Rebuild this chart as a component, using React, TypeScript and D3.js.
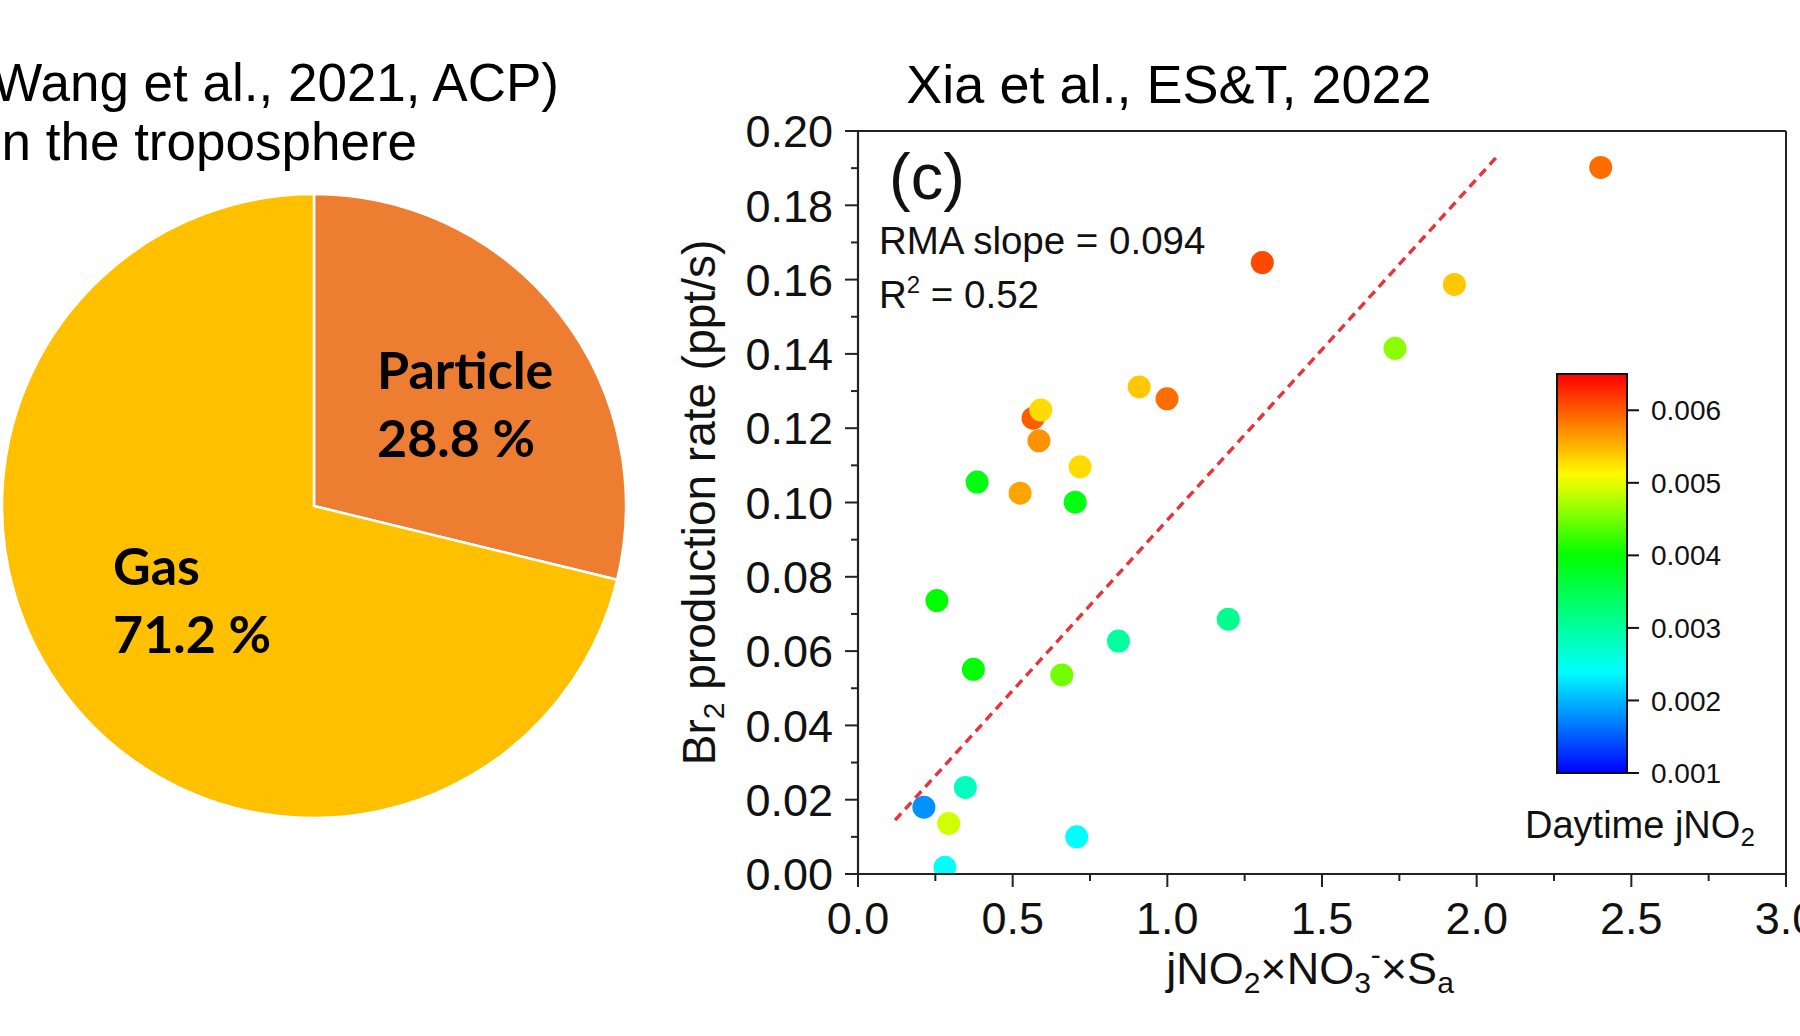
import React from 'react';
import * as d3 from 'd3';

// ---------- Pie data ----------
const pieLabels = ['Particle', 'Gas'];
const pieValues = [28.8, 71.2];
const pieColors = ['#ED7D31', '#FFC000'];

// ---------- Scatter data ----------
const xVals = [2.401, 1.307, 1.928, 1.736, 0.909, 0.999, 0.566, 0.591, 0.585, 0.718, 0.385, 0.524, 0.702, 0.255, 1.197, 0.842, 0.373, 0.659, 0.347, 0.213, 0.293, 0.707, 0.281];
const yVals = [0.1902, 0.1646, 0.1587, 0.1415, 0.1311, 0.1279, 0.1227, 0.1249, 0.1166, 0.1096, 0.1055, 0.1025, 0.1001, 0.0736, 0.0686, 0.0627, 0.0551, 0.0536, 0.0233, 0.0180, 0.0136, 0.0100, 0.0018];
const jVals = [0.0059, 0.0061, 0.0054, 0.0046, 0.0054, 0.0059, 0.0060, 0.0053, 0.0057, 0.0053, 0.0039, 0.0056, 0.0039, 0.0040, 0.0031, 0.0030, 0.0040, 0.0045, 0.0028, 0.0018, 0.0049, 0.0024, 0.0024];

// RMA fit line endpoints
const fitX = [0.12, 2.07];
const fitY = [0.0145, 0.1935];

const xTickValues = [0, 0.5, 1.0, 1.5, 2.0, 2.5, 3.0];
const xMinorValues = [0.25, 0.75, 1.25, 1.75, 2.25, 2.75];
const yTickValues = [0, 0.02, 0.04, 0.06, 0.08, 0.1, 0.12, 0.14, 0.16, 0.18, 0.2];
const yMinorValues = [0.01, 0.03, 0.05, 0.07, 0.09, 0.11, 0.13, 0.15, 0.17, 0.19];

const cbTickValues = [0.001, 0.002, 0.003, 0.004, 0.005, 0.006];
const cbStopValues = [0.001, 0.0024, 0.004, 0.0051, 0.0065];
const cbStopColors = ['#0000FF', '#00FFFF', '#00FF00', '#FFFF00', '#FF0000'];

const FONT = '"Liberation Sans", Arial, Helvetica, sans-serif';

export default function App() {
  // Pie
  const cx = 314, cy = 506, R = 312;
  const pie = d3.pie<number>().sort(null).value((d) => d);
  const arcs = pie(pieValues);
  const arc = d3.arc<d3.PieArcDatum<number>>().innerRadius(0).outerRadius(R);

  // Scatter scales
  const x = d3.scaleLinear().domain([0, 3]).range([858, 1786]);
  const y = d3.scaleLinear().domain([0, 0.2]).range([874, 131]);
  const color = d3.scaleLinear<string>().domain(cbStopValues).range(cbStopColors).interpolate(d3.interpolateRgb).clamp(true);

  // Colorbar
  const cbX = 1557, cbW = 70;
  const cb = d3.scaleLinear().domain([0.001, 0.0065]).range([773, 374]);
  const cbDomain = cb.domain();
  const gradStops = d3.range(0, 21).map((i) => {
    const v = cbDomain[0] + (cbDomain[1] - cbDomain[0]) * (i / 20);
    return { offset: `${(i / 20) * 100}%`, color: color(v) };
  });

  const fitLine = d3.line<number>().x((d, i) => x(fitX[i])).y((d, i) => y(fitY[i]));

  const plotL = x(0), plotR = x(3), plotT = y(0.2), plotB = y(0);

  return (
    <svg width={1800} height={1036} style={{ position: 'absolute', left: 0, top: 0, background: '#fff' }} fontFamily={FONT}>
      <rect x={0} y={0} width={1800} height={1036} fill="#fff" />
      <defs>
        <clipPath id="plotClip">
          <rect x={plotL} y={plotT} width={plotR - plotL} height={plotB - plotT} />
        </clipPath>
        <linearGradient id="cbGrad" x1="0" y1="1" x2="0" y2="0">
          {gradStops.map((s, i) => (
            <stop key={i} offset={s.offset} stopColor={s.color} />
          ))}
        </linearGradient>
      </defs>

      {/* Left titles */}
      <text x={559} y={101} fontSize={53} textAnchor="end" fill="#000">(Wang et al., 2021, ACP)</text>
      <text x={417} y={160} fontSize={53} textAnchor="end" fill="#000">in the troposphere</text>

      {/* Pie */}
      <g transform={`translate(${cx},${cy})`}>
        {arcs.map((a, i) => (
          <path key={i} d={arc(a) || ''} fill={pieColors[i]} stroke="#fff" strokeWidth={2.5} />
        ))}
      </g>
      <g fontFamily='Lato, "Open Sans", sans-serif' fontWeight={700} fontSize={52} fill="#000">
        <text x={377} y={389}>{pieLabels[0]}</text>
        <text x={377} y={457}>{`${pieValues[0].toFixed(1)} %`}</text>
        <text x={113} y={585}>{pieLabels[1]}</text>
        <text x={113} y={653}>{`${pieValues[1].toFixed(1)} %`}</text>
      </g>

      {/* Right title */}
      <text x={1169} y={103} fontSize={54} textAnchor="middle" fill="#000">Xia et al., ES&amp;T, 2022</text>

      {/* Plot frame */}
      <line x1={plotL} x2={plotR} y1={plotT} y2={plotT} stroke="#222" strokeWidth={2} />
      <line x1={plotR} x2={plotR} y1={plotT} y2={plotB} stroke="#222" strokeWidth={2} />

      {/* Fit line & points */}
      <g clipPath="url(#plotClip)">
        <path d={fitLine(fitX) || ''} fill="none" stroke="#E8333A" strokeWidth={3.4} strokeDasharray="9,6" />
        {xVals.map((xv, i) => (
          <circle key={i} cx={x(xv)} cy={y(yVals[i])} r={11.5} fill={color(jVals[i])} />
        ))}
      </g>

      {/* Axes */}
      <line x1={plotL} x2={plotL} y1={plotT} y2={plotB} stroke="#222" strokeWidth={2.2} />
      <line x1={plotL} x2={plotR} y1={plotB} y2={plotB} stroke="#222" strokeWidth={2.2} />
      {yTickValues.map((v) => (
        <g key={`yt${v}`}>
          <line x1={plotL - 13} x2={plotL} y1={y(v)} y2={y(v)} stroke="#222" strokeWidth={2} />
          <text x={plotL - 25} y={y(v)} dy="0.36em" fontSize={45} textAnchor="end" fill="#111">{v.toFixed(2)}</text>
        </g>
      ))}
      {yMinorValues.map((v) => (
        <line key={`ym${v}`} x1={plotL - 7} x2={plotL} y1={y(v)} y2={y(v)} stroke="#222" strokeWidth={2} />
      ))}
      {xTickValues.map((v) => (
        <g key={`xt${v}`}>
          <line x1={x(v)} x2={x(v)} y1={plotB} y2={plotB + 13} stroke="#222" strokeWidth={2} />
          <text x={x(v)} y={934} fontSize={45} textAnchor="middle" fill="#111">{v.toFixed(1)}</text>
        </g>
      ))}
      {xMinorValues.map((v) => (
        <line key={`xm${v}`} x1={x(v)} x2={x(v)} y1={plotB} y2={plotB + 7} stroke="#222" strokeWidth={2} />
      ))}

      {/* Axis titles */}
      <text x={1310} y={984} fontSize={45} textAnchor="middle" fill="#111">
        jNO<tspan fontSize={30} dy={9}>2</tspan>
        <tspan dy={-9}>×NO</tspan><tspan fontSize={30} dy={9}>3</tspan>
        <tspan fontSize={30} dy={-28}>-</tspan>
        <tspan dy={19}>×S</tspan><tspan fontSize={30} dy={9}>a</tspan>
      </text>
      <text transform={`translate(715,${(plotT + plotB) / 2}) rotate(-90)`} fontSize={46} textAnchor="middle" fill="#111">
        Br<tspan fontSize={30} dy={9}>2</tspan><tspan dy={-9}> production rate (ppt/s)</tspan>
      </text>

      {/* Annotations */}
      <text x={889} y={199} fontSize={65} fill="#111">(c)</text>
      <text x={879} y={254} fontSize={38.5} fill="#111">RMA slope = 0.094</text>
      <text x={879} y={308} fontSize={38.5} fill="#111">
        R<tspan fontSize={24} dy={-15}>2</tspan><tspan dy={15}> = 0.52</tspan>
      </text>

      {/* Colorbar */}
      <rect x={cbX} y={cb(0.0065)} width={cbW} height={cb(0.001) - cb(0.0065)} fill="url(#cbGrad)" stroke="#111" strokeWidth={2} />
      {cbTickValues.map((v) => (
        <g key={`cb${v}`}>
          <line x1={cbX + cbW} x2={cbX + cbW + 12} y1={cb(v)} y2={cb(v)} stroke="#111" strokeWidth={2} />
          <text x={cbX + cbW + 24} y={cb(v)} dy="0.36em" fontSize={28} fill="#111">{v.toFixed(3)}</text>
        </g>
      ))}
      <text x={1525} y={838} fontSize={38} fill="#111">
        Daytime jNO<tspan fontSize={26} dy={8}>2</tspan>
      </text>
    </svg>
  );
}
